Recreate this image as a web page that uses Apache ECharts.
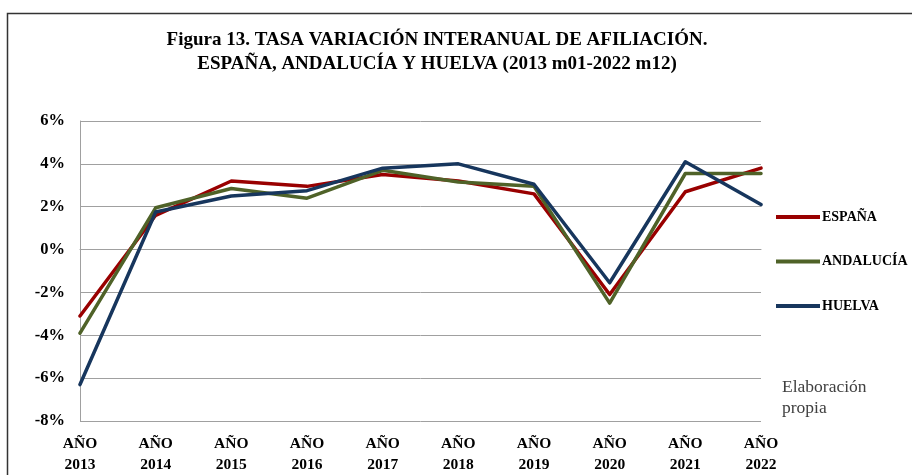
<!DOCTYPE html>
<html><head><meta charset="utf-8">
<script src="https://cdn.jsdelivr.net/npm/echarts@6/dist/echarts.min.js"></script>
<style>html,body{margin:0;padding:0;background:#fff}#c{width:913px;height:475px}</style>
</head><body><div id="c"></div>
<script>
const categories = ['AÑO\n2013','AÑO\n2014','AÑO\n2015','AÑO\n2016','AÑO\n2017','AÑO\n2018','AÑO\n2019','AÑO\n2020','AÑO\n2021','AÑO\n2022'];
const espana    = [-3.1, 1.6, 3.2, 2.95, 3.5, 3.2, 2.6, -2.1, 2.7, 3.8];
const andalucia = [-3.9, 1.95, 2.85, 2.4, 3.7, 3.15, 2.95, -2.5, 3.55, 3.55];
const huelva    = [-6.3, 1.75, 2.5, 2.75, 3.8, 4.0, 3.05, -1.55, 4.1, 2.1];
const seriesNames = ['ESPAÑA','ANDALUCÍA','HUELVA'];
const titleLines = ['Figura 13. TASA VARIACIÓN INTERANUAL DE AFILIACIÓN.','ESPAÑA, ANDALUCÍA Y HUELVA (2013 m01-2022 m12)'];
const note = 'Elaboración\npropia';

const colors = ['#990000','#4F6228','#17365D'];
const serif = '"Liberation Serif", "DejaVu Serif", serif';
const chart = echarts.init(document.getElementById('c'), null, {renderer:'canvas'});
const mk = (name, data, i) => ({
  name, type:'line', data, symbol:'none', smooth:false,
  lineStyle:{width:3.5, color:colors[i], cap:'round', join:'round'},
  itemStyle:{color:colors[i]}, z: 3+i
});
chart.setOption({
  animation:false,
  backgroundColor:'#fff',
  title:{
    text: titleLines.join('\n'), left:432, top:23, textAlign:'center',
    textStyle:{fontFamily:serif, fontWeight:'bold', fontSize:19, color:'#000', lineHeight:24}
  },
  legend:{
    orient:'vertical', left:771, top:205, itemGap:30.5, itemWidth:44, itemHeight:4,
    icon:'rect', data:seriesNames,
    textStyle:{fontFamily:serif, fontWeight:'bold', fontSize:14, color:'#000', padding:[0,0,0,-3]}
  },
  grid:{left:80, right:152, top:121, bottom:54, containLabel:false},
  xAxis:{
    type:'category', data:categories, boundaryGap:false,
    axisLine:{show:true, lineStyle:{color:'#A0A0A0', width:1}},
    axisTick:{show:false},
    axisLabel:{fontFamily:serif, fontWeight:'bold', fontSize:15.5, color:'#000', margin:12, lineHeight:21, interval:0},
    splitLine:{show:false}
  },
  yAxis:{
    type:'value', min:-8, max:6, interval:2,
    axisLine:{show:true, lineStyle:{color:'#A0A0A0', width:1}},
    axisTick:{show:false},
    axisLabel:{fontFamily:serif, fontWeight:'bold', fontSize:16.5, color:'#000', margin:15, formatter:v=>v+'%'},
    splitLine:{show:true, lineStyle:{color:'#A0A0A0', width:1}}
  },
  graphic:[
    {type:'polyline', shape:{points:[[7.5,476],[7.5,13.5],[912,13.5]]}, style:{stroke:'#333', lineWidth:1.5, fill:null}, silent:true},
    {type:'text', left:782, top:377, style:{text:note, fontFamily:serif, fontSize:17.5, fill:'#404040', lineHeight:21}}
  ],
  series:[mk(seriesNames[0],espana,0), mk(seriesNames[1],andalucia,1), mk(seriesNames[2],huelva,2)]
});
</script></body></html>
